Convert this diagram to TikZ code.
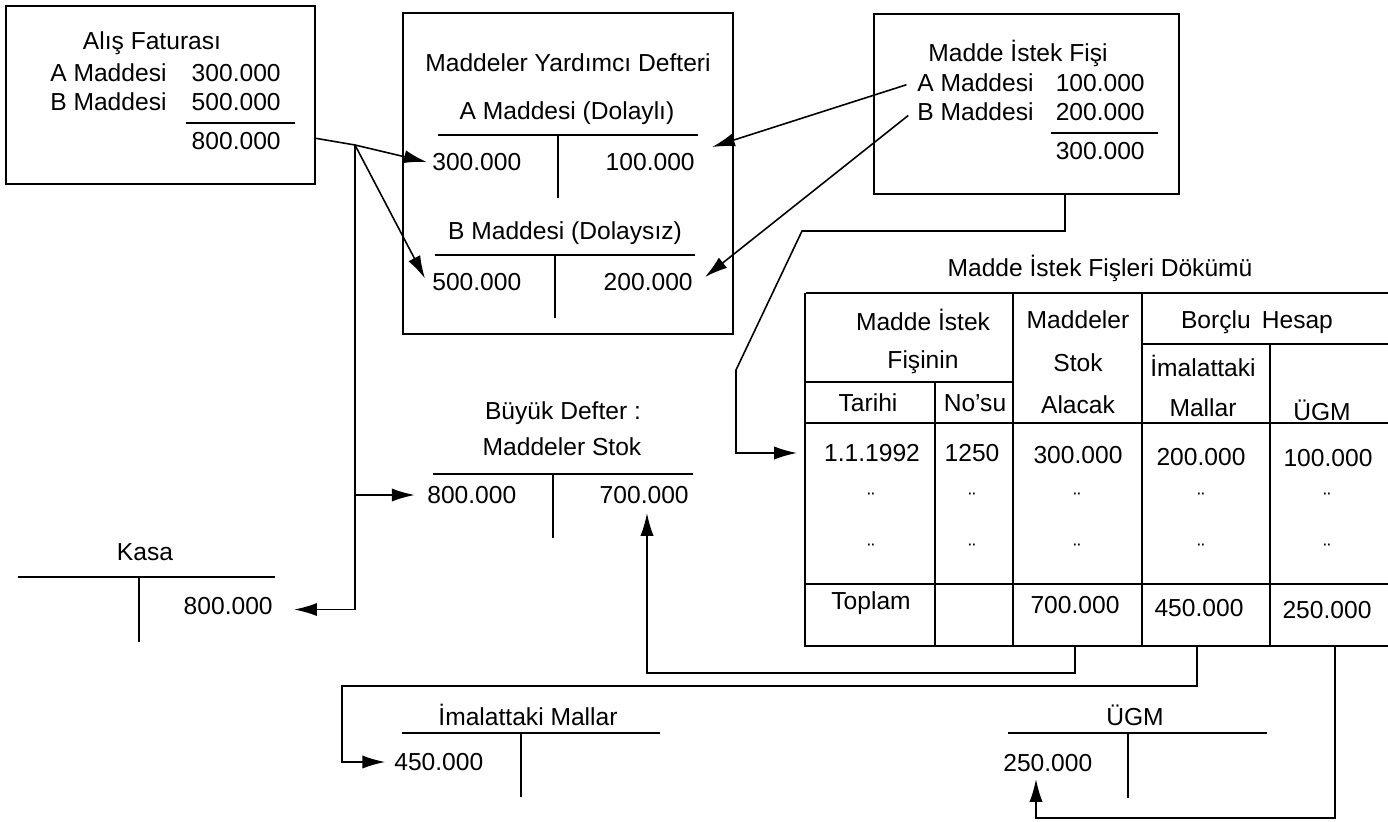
\documentclass[tikz,border=0pt]{standalone}
\usepackage{fontspec}
\setmainfont{Liberation Sans}
\usetikzlibrary{arrows.meta}
\begin{document}
\begin{tikzpicture}[x=0.02cm,y=-0.02cm,
  every node/.style={font=\fontsize{14}{16}\selectfont, inner sep=0pt},
  ln/.style={line width=0.9pt},
  arr/.style={line width=0.9pt,-{Latex[length=13pt,width=7.5pt]}},
  boxx/.style={draw,line width=1pt,anchor=north west},
  ditto/.style={font=\fontsize{12}{12}\selectfont}
]
\useasboundingbox (0,0) rectangle (1388,821);

% ---------- Alis Faturasi ----------
\node[boxx,minimum width=6.18cm,minimum height=3.56cm] (b1) at (5,5) {};
\node (b1t) at (152,43) {Alış Faturası};
\node[anchor=west] (b1a) at (50,73) {A Maddesi};
\node[anchor=east] (b1av) at (281,73) {300.000};
\node[anchor=west] (b1b) at (50,102) {B Maddesi};
\node[anchor=east] (b1bv) at (281,102) {500.000};
\draw[ln] (186,123) -- (295,123);
\node[anchor=east] (b1tot) at (281,141) {800.000};

% ---------- Maddeler Yardimci Defteri ----------
\node[boxx,minimum width=6.6cm,minimum height=6.42cm] (b2) at (402,12) {};
\node (b2t) at (568,63) {Maddeler Yardımcı Defteri};
\node (b2a) at (567,113) {A Maddesi (Dolaylı)};
\draw[ln] (438,135) -- (698,135);
\draw[ln] (558,135) -- (558,198);
\node[anchor=west] (a300) at (432,162) {300.000};
\node[anchor=east] (a100) at (695,162) {100.000};
\node (b2b) at (565,233) {B Maddesi (Dolaysız)};
\draw[ln] (435,255) -- (695,255);
\draw[ln] (555,255) -- (555,318);
\node[anchor=west] (b500) at (432,282) {500.000};
\node[anchor=east] (b200) at (693,282) {200.000};

% ---------- Madde Istek Fisi ----------
\node[boxx,minimum width=6.1cm,minimum height=3.6cm] (b3) at (873,13) {};
\node (b3t) at (1018,53) {Madde İstek Fişi};
\node[anchor=west] (b3a) at (917,83) {A Maddesi};
\node[anchor=east] (b3av) at (1145,83) {100.000};
\node[anchor=west] (b3b) at (917,112) {B Maddesi};
\node[anchor=east] (b3bv) at (1145,112) {200.000};
\draw[ln] (1051,133) -- (1158,133);
\node[anchor=east] (b3tot) at (1145,151) {300.000};

% ---------- Madde Istek Fisleri Dokumu (table) ----------
\node (tt) at (1100,268) {Madde İstek Fişleri Dökümü};
\draw[ln] (806,293) -- (1388,293);
\draw[ln] (805,293) -- (805,646) -- (1388,646);
\draw[ln] (1142,344) -- (1388,344);
\draw[ln] (805,382) -- (1013,382);
\draw[ln] (805,423) -- (1388,423);
\draw[ln] (805,584) -- (1388,584);
\draw[ln] (935,382) -- (935,646);
\draw[ln] (1013,293) -- (1013,646);
\draw[ln] (1142,293) -- (1142,646);
\draw[ln] (1270,344) -- (1270,646);

\node (h1) at (923,320) {Madde İstek};
\node (h2) at (923,362) {Fişinin};
\node (h3) at (868,403) {Tarihi};
\node (h4) at (975,403) {No’su};
\node (h5) at (1078,320) {Maddeler};
\node (h6) at (1078,363) {Stok};
\node (h7) at (1078,405) {Alacak};
\node (h8) at (1257,322) {Borçlu\hspace{0.45em}Hesap};
\node (h9) at (1203,366) {İmalattaki};
\node (h10) at (1203,408) {Mallar};
\node (h11) at (1322,410) {ÜGM};

\node (r1a) at (872,453) {1.1.1992};
\node (r1b) at (972,453) {1250};
\node (r1c) at (1078,455) {300.000};
\node (r1d) at (1201,457) {200.000};
\node (r1e) at (1328,458) {100.000};

\foreach \yy/\nm in {500/p, 551/q}{
  \node[ditto] (\nm a) at (871,\yy) {¨};
  \node[ditto] (\nm b) at (972,\yy) {¨};
  \node[ditto] (\nm c) at (1077,\yy) {¨};
  \node[ditto] (\nm d) at (1201,\yy) {¨};
  \node[ditto] (\nm e) at (1327,\yy) {¨};
}

\node (ta) at (871,603) {Toplam};
\node (tc) at (1075,605) {700.000};
\node (td) at (1199,608) {450.000};
\node (te) at (1327,610) {250.000};

% ---------- Buyuk Defter ----------
\node (bdt1) at (563,413) {Büyük Defter :};
\node (bdt2) at (562,447) {Maddeler Stok};
\draw[ln] (433,474) -- (693,474);
\draw[ln] (553,474) -- (553,538);
\node[anchor=west] (bd800) at (427,495) {800.000};
\node[anchor=east] (bd700) at (689,495) {700.000};

% ---------- Kasa ----------
\node (kt) at (145,552) {Kasa};
\draw[ln] (18,577) -- (275,577);
\draw[ln] (139,577) -- (139,642);
\node[anchor=east] (k800) at (273,606) {800.000};

% ---------- Imalattaki Mallar ----------
\node (imt) at (528,715) {İmalattaki Mallar};
\draw[ln] (402,733) -- (660,733);
\draw[ln] (521,733) -- (521,797);
\node[anchor=west] (im450) at (394,762) {450.000};

% ---------- UGM ----------
\node (ut) at (1135,715) {ÜGM};
\draw[ln] (1008,733) -- (1267,733);
\draw[ln] (1128,733) -- (1128,798);
\node[anchor=west] (u250) at (1003,763) {250.000};

% ---------- connectors ----------
\coordinate (j1) at (355,145);
\coordinate (b1o) at (314,138);
\draw[ln] (b1o) -- (j1);
\draw[arr] (j1) -- ([xshift=-3pt]a300.west);
\draw[arr] (j1) -- ([xshift=-4pt,yshift=2pt]b500.west);
\draw[arr] (j1) |- ([xshift=-7pt]bd800.west);
\draw[arr] (j1) |- ([xshift=12pt,yshift=-2pt]k800.east);

\coordinate (t100) at (712,147);
\coordinate (t200) at (705,277);
\draw[arr] ([xshift=-6pt,yshift=-1pt]b3a.west) -- (t100);
\draw[arr] ([xshift=-5pt,yshift=-2pt]b3b.west) -- (t200);

\coordinate (b3o) at (1065,193);
\coordinate (k1) at (1065,231);
\coordinate (k2) at (802,231);
\coordinate (k3) at (736,370);
\coordinate (tin) at (797,453);
\draw[arr] (b3o) -- (k1) -- (k2) -- (k3) |- (tin);

\coordinate (tb1) at (1075,646);
\coordinate (tb2) at (1197,646);
\coordinate (tb3) at (1335,646);
\coordinate (t700) at (647,513);
\coordinate (t250) at (1036,779);
\draw[arr] (tb1) |- (647,673) -- (t700);
\draw[arr] (tb2) |- (342,686) |- ([xshift=-5pt]im450.west);
\draw[arr] (tb3) |- (1036,818) -- (t250);
\end{tikzpicture}
\end{document}
